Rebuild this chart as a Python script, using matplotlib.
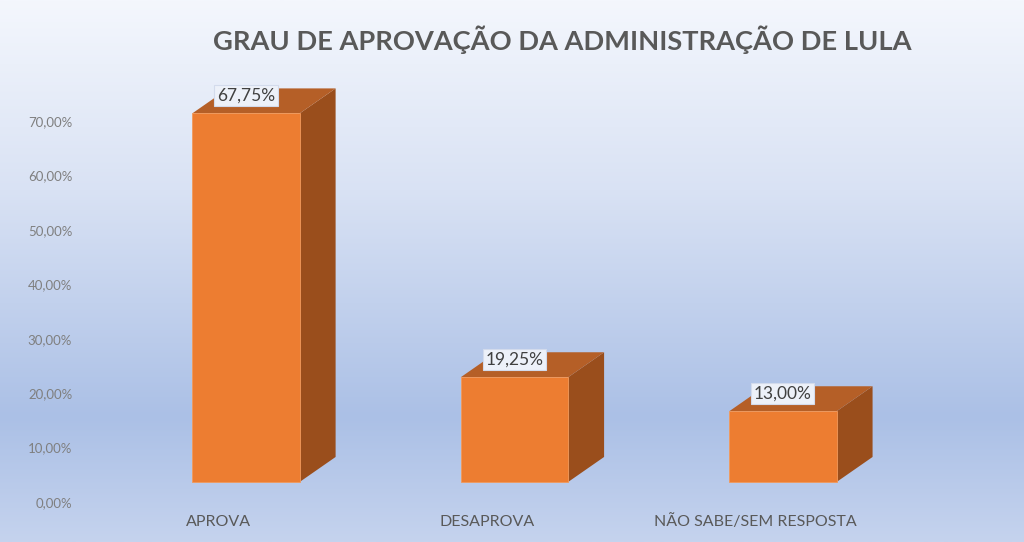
import numpy as np
import matplotlib
matplotlib.use("Agg")
import matplotlib.pyplot as plt
from matplotlib.patches import Polygon
from matplotlib.colors import LinearSegmentedColormap

categorias = ["APROVA", "DESAPROVA", "NÃO SABE/SEM RESPOSTA"]
valores = [67.75, 19.25, 13.00]
rotulos = ["67,75%", "19,25%", "13,00%"]
ticks = [0, 10, 20, 30, 40, 50, 60, 70]
tick_labels = ["0,00%", "10,00%", "20,00%", "30,00%", "40,00%", "50,00%", "60,00%", "70,00%"]

plt.rcParams['font.family'] = ['Lato', 'DejaVu Sans']

fig = plt.figure(figsize=(10.24, 5.42), dpi=100)

# fundo em gradiente
bg = fig.add_axes([0, 0, 1, 1])
bg.axis('off')
cmap = LinearSegmentedColormap.from_list(
    'fundo', [(0, '#f4f7fd'), (0.35, '#d9e2f4'), (0.77, '#abc0e6'), (1.0, '#c5d3ee')])
grad = np.linspace(0, 1, 256).reshape(-1, 1)
bg.imshow(grad, aspect='auto', cmap=cmap, extent=[0, 1, 0, 1], origin='upper')
bg.set_xlim(0, 1)
bg.set_ylim(0, 1)

ax = fig.add_axes([0, 0, 1, 1])
ax.patch.set_alpha(0)
ax.set_xlim(-0.916, 2.898)
ax.set_ylim(-7.35, 92.28)
for s in ax.spines.values():
    s.set_visible(False)
ax.set_xticks([])
ax.set_yticks(ticks)
ax.set_yticklabels(tick_labels)
ax.tick_params(axis='y', length=0, pad=-52, labelsize=9.5, labelcolor='#7f7f7f')

largura = 0.4
lift = 3.68   # deslocamento da face frontal (perspectiva)
dx = 0.134    # profundidade em x
dy = 4.6      # profundidade em y

frente = '#ED7D31'
topo = '#B55F27'
lado = '#9A4E1C'

for i, v in enumerate(valores):
    x0, x1 = i - largura / 2, i + largura / 2
    y0, y1 = lift, lift + v
    ax.add_patch(Polygon([(x1, y0), (x1 + dx, y0 + dy), (x1 + dx, y1 + dy), (x1, y1)],
                         closed=True, facecolor=lado, edgecolor='none'))
    ax.add_patch(Polygon([(x0, y1), (x0 + dx, y1 + dy), (x1 + dx, y1 + dy), (x1, y1)],
                         closed=True, facecolor=topo, edgecolor='none'))
    ax.add_patch(Polygon([(x0, y0), (x1, y0), (x1, y1), (x0, y1)],
                         closed=True, facecolor=frente, edgecolor='#f29a5c', linewidth=0.6))
    ax.text(i, y1 + 3.3, rotulos[i], ha='center', va='center', fontsize=12.5,
            color='#404040',
            bbox=dict(boxstyle='square,pad=0.15', facecolor='#edf1f9',
                      edgecolor='#d3dbec', linewidth=0.8))
    ax.text(i - 0.102, -3.65, categorias[i], ha='center', va='center',
            fontsize=11.5, color='#595959')

fig.text(0.549, 0.926, "GRAU DE APROVAÇÃO DA ADMINISTRAÇÃO DE LULA",
         ha='center', va='center', fontsize=19.6, fontweight='bold', color='#595959')

fig.savefig("out.png", dpi=100)
